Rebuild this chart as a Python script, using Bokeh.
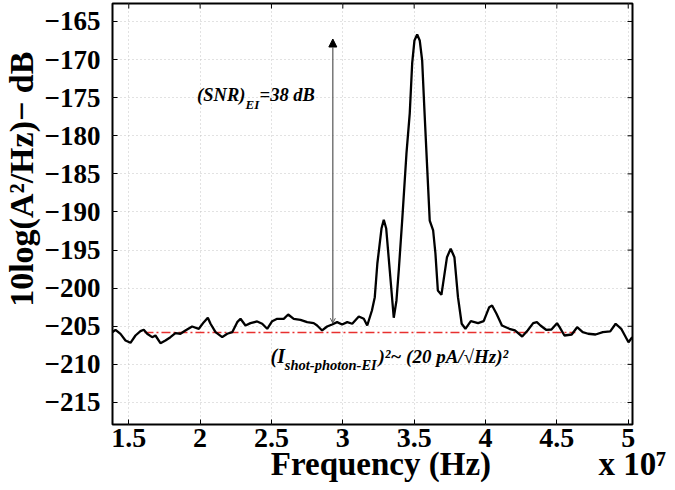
import math
from bokeh.plotting import figure
from bokeh.models import Range1d, FixedTicker, Label, Arrow, NormalHead, OpenHead, LinearAxis
from bokeh.embed import file_html
from bokeh.resources import INLINE

# ---------------- data (frequency in units of 1e7 Hz, PSD in dB) ----------------
freq = [1.384, 1.407, 1.442, 1.477, 1.512, 1.547, 1.582, 1.605, 1.629, 1.664,
        1.687, 1.722, 1.757, 1.792, 1.827, 1.862, 1.897, 1.944, 1.991, 2.026,
        2.054, 2.073, 2.108, 2.155, 2.190, 2.225, 2.260, 2.283, 2.318, 2.353,
        2.400, 2.435, 2.470, 2.505, 2.540, 2.586, 2.617, 2.656, 2.703, 2.750,
        2.796, 2.820, 2.855, 2.890, 2.925, 2.960, 2.995, 3.031, 3.066, 3.112,
        3.147, 3.171, 3.204, 3.224, 3.242, 3.253, 3.271, 3.287, 3.304, 3.329,
        3.357, 3.376, 3.392, 3.416, 3.446, 3.469, 3.486, 3.502, 3.521, 3.539,
        3.556, 3.572, 3.591, 3.609, 3.633, 3.649, 3.666, 3.691, 3.730, 3.756,
        3.782, 3.807, 3.833, 3.859, 3.897, 3.948, 3.987, 4.026, 4.046, 4.077,
        4.115, 4.167, 4.206, 4.257, 4.295, 4.334, 4.360, 4.385, 4.424, 4.462,
        4.501, 4.519, 4.553, 4.604, 4.642, 4.681, 4.719, 4.771, 4.822, 4.874,
        4.912, 4.951, 5.002, 5.028]
psd = [-205.80, -205.46, -206.00, -206.86, -207.17, -206.21, -205.64, -205.46, -205.98, -206.43,
       -206.21, -207.22, -206.86, -206.43, -205.91, -205.98, -205.55, -205.03, -205.33, -204.46,
       -203.88, -204.67, -205.77, -206.43, -205.98, -205.77, -204.46, -204.02, -204.90, -204.59,
       -204.37, -204.67, -205.33, -204.33, -204.02, -204.02, -203.45, -204.02, -204.15, -204.46,
       -204.59, -204.90, -205.55, -205.03, -204.76, -204.46, -204.76, -204.46, -204.67, -203.71,
       -204.02, -204.90, -202.93, -201.18, -196.76, -195.05, -192.17, -191.02, -192.17, -197.68,
       -203.88, -201.61, -197.68, -191.12, -182.32, -177.07, -170.51, -167.49, -166.71, -167.49,
       -170.12, -176.68, -184.12, -191.12, -192.43, -195.45, -200.30, -200.87, -195.93, -194.83,
       -195.93, -201.18, -204.67, -205.33, -204.33, -204.59, -204.33, -202.49, -202.27, -203.36,
       -204.90, -205.33, -205.55, -206.34, -205.55, -204.59, -204.46, -204.90, -205.46, -205.42,
       -204.59, -205.12, -206.21, -206.08, -205.12, -205.77, -205.98, -206.08, -205.77, -205.68,
       -204.67, -205.33, -207.09, -206.43]

xticks = [1.5, 2, 2.5, 3, 3.5, 4, 4.5, 5]
xtick_labels = ["1.5", "2", "2.5", "3", "3.5", "4", "4.5", "5"]
yticks = [-215, -210, -205, -200, -195, -190, -185, -180, -175, -170, -165]
ytick_labels = ["\u2212215", "\u2212210", "\u2212205", "\u2212200", "\u2212195", "\u2212190",
                "\u2212185", "\u2212180", "\u2212175", "\u2212170", "\u2212165"]

x_title = "Frequency (Hz)"
x_scale_note = "x 10\u2077"
y_title = "10log(A\u00b2/Hz)\u2212 dB"

noise_floor = -205.8
noise_f = [1.61, 4.63]
snr_f = 2.93
snr_low = -204.6
snr_high = -167.3

X0, X1 = 1.386, 5.030
Y0, Y1 = -217.89, -162.64

FONT = "Liberation Serif"

p = figure(width=672, height=488, output_backend="svg", toolbar_location=None,
           x_range=Range1d(X0, X1), y_range=Range1d(Y0, Y1),
           min_border_left=112, min_border_right=40, min_border_top=3, min_border_bottom=64,
           background_fill_color="white", border_fill_color="white")

p.outline_line_color = "black"
p.outline_line_width = 2
p.outline_line_alpha = 1

xa = p.xaxis[0]
ya = p.yaxis[0]
for ax, ticks, labs in ((xa, xticks, xtick_labels), (ya, yticks, ytick_labels)):
    ax.ticker = FixedTicker(ticks=ticks)
    ax.major_label_overrides = dict(zip(ticks, labs))
    ax.major_label_text_font = FONT
    ax.major_label_text_font_style = "bold"
    ax.major_label_text_color = "black"
    ax.major_tick_in = 5
    ax.major_tick_out = 0
    ax.major_tick_line_color = "black"
    ax.minor_tick_line_color = None
    ax.axis_line_color = None

xa.major_label_text_font_size = "28px"
xa.major_label_standoff = 4
ya.major_label_text_font_size = "27px"
ya.major_label_standoff = 12

# axis titles drawn as single-tick label rows (so they can sit exactly where the original has them)
ytitle_pos = -185.7
ya2 = LinearAxis(ticker=FixedTicker(ticks=[ytitle_pos]), major_label_overrides={ytitle_pos: y_title},
                 major_label_orientation="vertical", major_label_text_font=FONT,
                 major_label_text_font_style="bold", major_label_text_font_size="34px",
                 major_label_text_color="black", major_label_standoff=-5,
                 major_tick_line_color=None, minor_tick_line_color=None, axis_line_color=None)
p.add_layout(ya2, "left")

xtitle_pos = [3.267, 5.029]
xa2 = LinearAxis(ticker=FixedTicker(ticks=xtitle_pos),
                 major_label_overrides={xtitle_pos[0]: x_title, xtitle_pos[1]: x_scale_note},
                 major_label_text_font=FONT, major_label_text_font_style="bold",
                 major_label_text_font_size="33px", major_label_text_color="black",
                 major_label_standoff=-10,
                 major_tick_line_color=None, minor_tick_line_color=None, axis_line_color=None)
p.add_layout(xa2, "below")

p.xgrid.ticker = FixedTicker(ticks=xticks)
p.ygrid.ticker = FixedTicker(ticks=yticks)
for g in (p.xgrid[0], p.ygrid[0]):
    g.grid_line_color = "#c4c4c4"
    g.grid_line_dash = "1 3"
    g.grid_line_width = 1

# inward ticks on the top and right edges (half of each dash is clipped by the frame)
p.scatter(xticks, [Y1] * len(xticks), marker="dash", angle=math.pi / 2, size=10,
          line_color="black", line_width=1)
p.scatter([X1] * len(yticks), yticks, marker="dash", size=10, line_color="black", line_width=1)

p.line(noise_f, [noise_floor, noise_floor], line_color="#e8302f", line_width=1.5, line_dash="9 3 2 3")
p.line(freq, psd, line_color="black", line_width=2.3)

p.add_layout(Arrow(x_start=snr_f, y_start=snr_low, x_end=snr_f, y_end=snr_high,
                   line_color="#555555", line_width=1.2,
                   end=NormalHead(size=8, fill_color="black", line_color="black", line_width=1),
                   start=OpenHead(size=5, line_color="#555555", line_width=1)))


def lab(text, x, y, size, style="bold italic", x_offset=0, **kw):
    p.add_layout(Label(text=text, x=x, y=y, x_offset=x_offset, text_font=FONT,
                       text_font_size=size, text_font_style=style, text_color="black", **kw))


# (SNR)_EI = 38 dB
lab("(SNR)", 1.979, -176.02, "18.5px")
lab("EI", 1.979, -176.87, "13px", x_offset=48.5)
lab("=38 dB", 1.979, -176.02, "18.5px", x_offset=62.5)

# noise-floor annotation
lab("(I", 2.493, -210.28, "20px")
lab("shot-photon-EI", 2.493, -211.07, "14.5px", x_offset=14.4)
lab(")\u00b2~ (20 pA/\u221aHz)\u00b2", 2.493, -210.28, "19px", x_offset=108)

open("out.html", "w").write(file_html(p, INLINE))
